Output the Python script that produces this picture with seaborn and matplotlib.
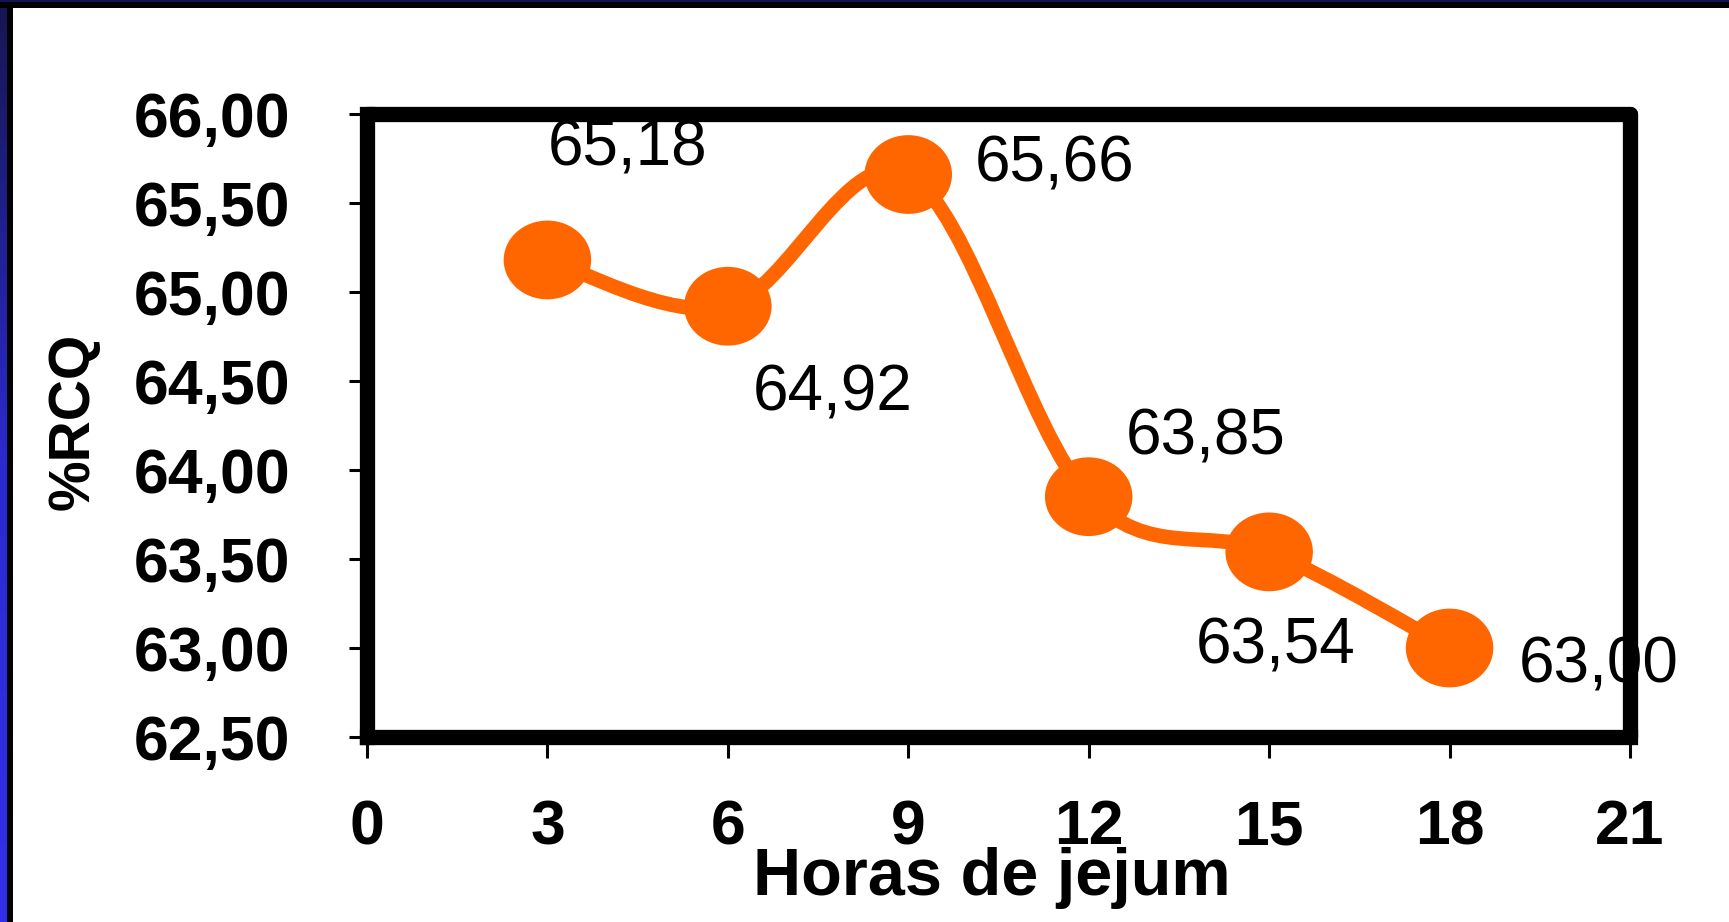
import numpy as np
import pandas as pd
import matplotlib
matplotlib.use("Agg")
import matplotlib.pyplot as plt
import seaborn as sns
from matplotlib.path import Path
from matplotlib.patches import PathPatch, Rectangle

# Fasting hours and carcass yield (%RCQ)
hours = [3, 6, 9, 12, 15, 18]
rcq = [65.18, 64.92, 65.66, 63.85, 63.54, 63.00]
value_labels = ["65,18", "64,92", "65,66", "63,85", "63,54", "63,00"]

x_ticks = [0, 3, 6, 9, 12, 15, 18, 21]
y_ticks = [62.5, 63.0, 63.5, 64.0, 64.5, 65.0, 65.5, 66.0]
y_tick_labels = ["62,50", "63,00", "63,50", "64,00", "64,50", "65,00", "65,50", "66,00"]

x_title = "Horas de jejum"
y_title = "%RCQ"

# label offsets from each point, in pixels (dx right, dy down)
label_offsets_px = [(80, -111), (105, 87), (146, -10), (117, -59), (6, 95), (149, 17)]

ORANGE = "#FF6600"
W, H, DPI = 1729, 922, 100

sns.set_theme(style="white")
plt.rcParams["font.family"] = ["Liberation Sans", "DejaVu Sans"]

fig = plt.figure(figsize=(W / DPI, H / DPI), dpi=DPI)
fig.patch.set_facecolor("white")

# slide frame: blue gradient band on the left, navy/black band on top
band = fig.add_axes([0, 0, 7 / W, 1])
grad = np.linspace(0, 1, 256).reshape(-1, 1)
cmap = matplotlib.colors.LinearSegmentedColormap.from_list("frame", ["#3030ea", "#2a2ad0", "#161650"])
band.imshow(grad, aspect="auto", cmap=cmap, origin="lower", extent=[0, 1, 0, 1])
band.set_axis_off()
fig.add_artist(Rectangle((7 / W, 0), 6 / W, 1 - 2 / H, transform=fig.transFigure,
                         facecolor="black", edgecolor="none"))
fig.add_artist(Rectangle((0, 1 - 8 / H), 1, 6 / H, transform=fig.transFigure,
                         facecolor="black", edgecolor="none"))
fig.add_artist(Rectangle((0, 1 - 2 / H), 1, 2 / H, transform=fig.transFigure,
                         facecolor="#141450", edgecolor="none"))

left, right, bottom, top = 367, 1630, 185, 808
ax = fig.add_axes([left / W, bottom / H, (right - left) / W, (top - bottom) / H])
ax.set_facecolor("white")

# smoothed line through the points (cubic Bezier segments, Catmull-Rom style)
pts = np.column_stack([hours, rcq]).astype(float)
n = len(pts)
verts = [pts[0]]
codes = [Path.MOVETO]
for i in range(n - 1):
    p_prev = pts[i - 1] if i > 0 else pts[i]
    p_next = pts[i + 2] if i + 2 < n else pts[i + 1]
    c1 = pts[i] + (pts[i + 1] - p_prev) / 6.0
    c2 = pts[i + 1] - (p_next - pts[i]) / 6.0
    verts += [c1, c2, pts[i + 1]]
    codes += [Path.CURVE4] * 3
curve = PathPatch(Path(verts, codes), facecolor="none", edgecolor=ORANGE,
                  linewidth=10.5, capstyle="round", joinstyle="round", zorder=2)
ax.add_patch(curve)

# elliptical markers
circle = Path.unit_circle()
ellipse = Path(circle.vertices * np.array([1.0, 0.9]), circle.codes)
df = pd.DataFrame({"hours": hours, "rcq": rcq})
sns.scatterplot(data=df, x="hours", y="rcq", ax=ax, marker=ellipse, s=63 ** 2,
                color=ORANGE, edgecolor="none", linewidth=0, zorder=3, legend=False)

# value labels
for xv, yv, txt, (dx, dy) in zip(hours, rcq, value_labels, label_offsets_px):
    ax.annotate(txt, (xv, yv), xytext=(dx * 72 / DPI, -dy * 72 / DPI),
                textcoords="offset points", ha="center", va="center",
                fontsize=46, color="black", zorder=4, annotation_clip=False)

ax.set_xlim(0, 21)
ax.set_ylim(62.5, 66.0)
ax.set_xticks(x_ticks)
ax.set_xticklabels([str(v) for v in x_ticks])
ax.set_yticks(y_ticks)
ax.set_yticklabels(y_tick_labels)

for lab in ax.get_xticklabels() + ax.get_yticklabels():
    lab.set_fontweight("bold")
    lab.set_fontsize(45)
    lab.set_color("black")

ax.tick_params(axis="x", direction="out", length=15, width=2.2, color="black", pad=29,
               bottom=True)
ax.tick_params(axis="y", direction="out", length=13, width=2.2, color="black", pad=42,
               left=True)

for side, sp in ax.spines.items():
    sp.set_visible(True)
    sp.set_linewidth(11)
    sp.set_color("black")
    sp.set_zorder(5)
    sp.set_capstyle("projecting")
ax.spines["right"].set_capstyle("round")
ax.spines["top"].set_capstyle("round")

ax.set_xlabel(x_title, fontsize=48, fontweight="bold", color="black")
ax.set_ylabel(y_title, fontsize=41, fontweight="bold", color="black")
ax.xaxis.label.set_va("center")
ax.yaxis.label.set_va("center")
# axis title centres: x title at (992, 878) px, y title at (74, 421) px from top-left
ax.xaxis.set_label_coords((992 - left) / (right - left), ((H - 878) - bottom) / (top - bottom))
ax.yaxis.set_label_coords((74 - left) / (right - left), ((H - 421) - bottom) / (top - bottom))

fig.savefig("out.png", dpi=DPI, facecolor=fig.get_facecolor())
